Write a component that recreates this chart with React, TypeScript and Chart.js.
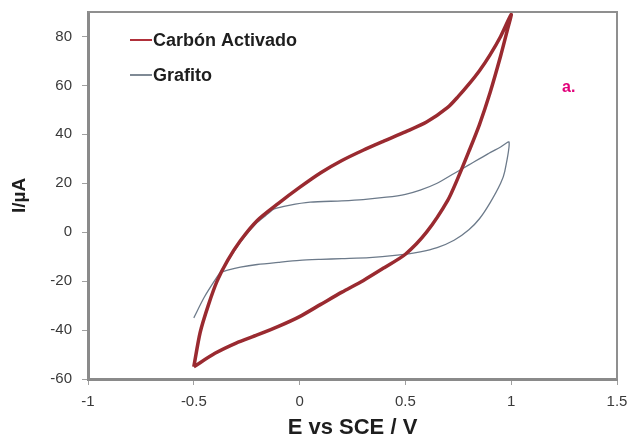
import React, { useEffect, useRef } from 'react';
import { Chart, registerables } from 'chart.js';

Chart.register(...registerables);

// ---- Data ----
const seriesNames = ['Carbón Activado', 'Grafito'];

// Carbón Activado: anodic (upper) sweep, then cathodic (lower) return
const carbonUpperE = [-0.5, -0.47, -0.43, -0.39, -0.34, -0.28, -0.2, -0.1, 0, 0.1, 0.2, 0.3, 0.4, 0.5, 0.6, 0.7, 0.75, 0.8, 0.85, 0.9, 0.95, 1.0];
const carbonUpperI = [-55, -41, -29.5, -20, -11.5, -3.5, 4.8, 11.8, 18.3, 24.3, 29.3, 33.5, 37.3, 41, 45, 51, 55.5, 60.5, 66, 72.5, 80, 89];
const carbonLowerE = [0.98, 0.95, 0.9, 0.85, 0.8, 0.75, 0.7, 0.6, 0.5, 0.4, 0.3, 0.2, 0.1, 0, -0.1, -0.2, -0.3, -0.4, -0.5];
const carbonLowerI = [82, 72, 57, 44, 33, 22.5, 13, 0, -9, -14.5, -19.8, -24.5, -29.5, -34.5, -38.5, -42, -45.3, -49.5, -55];

// Grafito
const grafitoUpperE = [-0.5, -0.45, -0.39, -0.34, -0.28, -0.2, -0.15, -0.12, -0.05, 0.05, 0.2, 0.3, 0.41, 0.5, 0.57, 0.65, 0.73, 0.8, 0.89, 0.95, 0.99];
const grafitoUpperI = [-35, -26.5, -18.3, -12, -4, 4, 7.5, 9.5, 11, 12.3, 12.8, 13.3, 14.3, 15.5, 17.2, 20, 24, 27.5, 32, 34.8, 36.8];
const grafitoLowerE = [0.97, 0.95, 0.9, 0.85, 0.8, 0.73, 0.65, 0.57, 0.45, 0.33, 0.2, 0.1, 0, -0.1, -0.2, -0.28, -0.34, -0.37];
const grafitoLowerI = [25, 20, 12, 5.5, 1, -3.3, -6.3, -8, -9.5, -10.4, -10.8, -11.1, -11.5, -12.3, -13.2, -14.3, -15.5, -16.3];

const xTicks = [-1, -0.5, 0, 0.5, 1, 1.5];
const xTickLabels = ['-1', '-0.5', '0', '0.5', '1', '1.5'];
const yTicks = [-60, -40, -20, 0, 20, 40, 60, 80];
const yTickLabels = ['-60', '-40', '-20', '0', '20', '40', '60', '80'];
const xTitle = 'E vs SCE / V';
const yTitle = 'I/µA';
const panelLabel = 'a.';

const FONT = '"Liberation Sans", Arial, Helvetica, sans-serif';

function toPoints(e1: number[], i1: number[], e2: number[], i2: number[]) {
  const pts: { x: number; y: number }[] = [];
  e1.forEach((x, k) => pts.push({ x, y: i1[k] }));
  e2.forEach((x, k) => pts.push({ x, y: i2[k] }));
  return pts;
}

const overlayPlugin = {
  id: 'overlay',
  afterDraw(chart: any) {
    const { ctx, chartArea: a } = chart;
    ctx.save();
    // top & right frame
    ctx.strokeStyle = '#8f8f8f';
    ctx.lineWidth = 2;
    ctx.beginPath();
    ctx.moveTo(a.left, a.top);
    ctx.lineTo(a.right, a.top);
    ctx.lineTo(a.right, a.bottom);
    ctx.stroke();

    // legend
    ctx.font = `bold 18px ${FONT}`;
    ctx.textBaseline = 'middle';
    ctx.textAlign = 'left';
    chart.data.datasets.forEach((ds: any, i: number) => {
      const y = a.top + 28 + i * 35;
      ctx.strokeStyle = ds.legendColor;
      ctx.lineWidth = 2;
      ctx.beginPath();
      ctx.moveTo(a.left + 42, y);
      ctx.lineTo(a.left + 64, y);
      ctx.stroke();
      ctx.fillStyle = '#1e1e1e';
      ctx.fillText(ds.label, a.left + 65, y + 1);
    });

    // panel label
    ctx.fillStyle = '#e2007a';
    ctx.font = `bold 16px ${FONT}`;
    ctx.fillText(panelLabel, a.right - 55, a.top + 76);
    ctx.restore();
  },
};

export default function App() {
  const ref = useRef<HTMLCanvasElement | null>(null);

  useEffect(() => {
    if (!ref.current) return;
    const chart = new Chart(ref.current, {
      type: 'scatter',
      data: {
        datasets: [
          {
            label: seriesNames[0],
            data: toPoints(carbonUpperE, carbonUpperI, carbonLowerE, carbonLowerI),
            showLine: true,
            borderColor: '#9a2a30',
            legendColor: '#b0303a',
            borderWidth: 3.5,
            pointRadius: 0,
            tension: 0.25,
            fill: false,
          } as any,
          {
            label: seriesNames[1],
            data: toPoints(grafitoUpperE, grafitoUpperI, grafitoLowerE, grafitoLowerI),
            showLine: true,
            borderColor: '#6c7a8a',
            legendColor: '#7f8a95',
            borderWidth: 1.3,
            pointRadius: 0,
            tension: 0.25,
            fill: false,
          } as any,
        ],
      },
      options: {
        animation: false,
        responsive: false,
        devicePixelRatio: 1,
        layout: { padding: { left: 0, right: 13, top: 12, bottom: 0 } },
        plugins: {
          legend: { display: false },
          tooltip: { enabled: false },
        },
        scales: {
          x: {
            type: 'linear',
            min: -1,
            max: 1.5,
            afterBuildTicks: (s: any) => {
              s.ticks = xTicks.map((v) => ({ value: v }));
            },
            afterFit: (s: any) => {
              s.height = 65;
              s.paddingLeft = 0;
              s.paddingRight = 0;
            },
            ticks: {
              callback: (v: any) => xTickLabels[xTicks.indexOf(Number(v))] ?? '',
              font: { family: FONT, size: 15 },
              color: '#3a3a3a',
              padding: 8,
              maxRotation: 0,
            },
            grid: {
              drawOnChartArea: false,
              drawTicks: true,
              tickLength: 6,
              tickColor: '#a0a0a0',
            },
            border: { display: true, color: '#8a8a8a', width: 3 },
            title: {
              display: true,
              text: xTitle,
              font: { family: FONT, size: 22, weight: 'bold' },
              color: '#1e1e1e',
              padding: { top: 0, bottom: 3 },
            },
          },
          y: {
            type: 'linear',
            min: -60,
            max: 90,
            afterBuildTicks: (s: any) => {
              s.ticks = yTicks.map((v) => ({ value: v }));
            },
            afterFit: (s: any) => {
              s.width = 88;
              s.paddingTop = 0;
              s.paddingBottom = 0;
            },
            ticks: {
              callback: (v: any) => yTickLabels[yTicks.indexOf(Number(v))] ?? '',
              font: { family: FONT, size: 15 },
              color: '#3a3a3a',
              padding: 10,
            },
            grid: {
              drawOnChartArea: false,
              drawTicks: true,
              tickLength: 6,
              tickColor: '#a0a0a0',
            },
            border: { display: true, color: '#8a8a8a', width: 3 },
            title: {
              display: true,
              text: yTitle,
              font: { family: FONT, size: 19, weight: 'bold' },
              color: '#1e1e1e',
              padding: { top: 8, bottom: 0 },
            },
          },
        },
      } as any,
      plugins: [overlayPlugin],
    });
    return () => chart.destroy();
  }, []);

  return (
    <div style={{ position: 'absolute', left: 0, top: 0, width: 630, height: 444, background: '#fff' }}>
      <canvas ref={ref} width={630} height={444} style={{ display: 'block' }} />
    </div>
  );
}
